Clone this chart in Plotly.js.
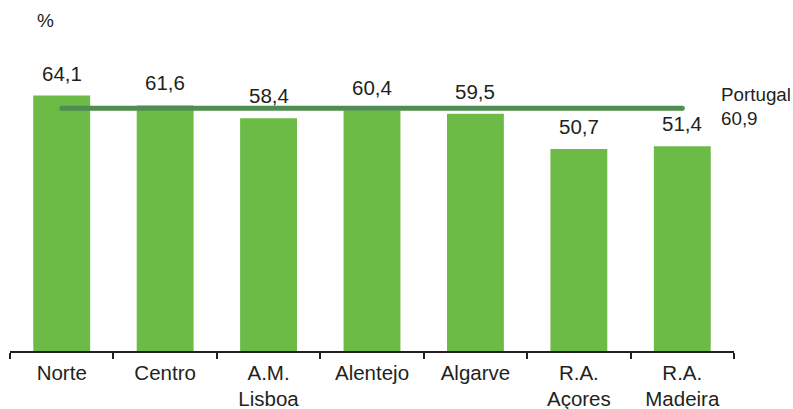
<!DOCTYPE html>
<html>
<head>
<meta charset="utf-8">
<script src="https://cdn.plot.ly/plotly-3.0.1.min.js"></script>
<style>html,body{margin:0;padding:0;background:#fff;}#chart{width:793px;height:409px;}</style>
</head>
<body>
<div id="chart"></div>
<script>
var categories = ["Norte", "Centro", "A.M.<br>Lisboa", "Alentejo", "Algarve", "R.A.<br>Açores", "R.A.<br>Madeira"];
var values = [64.1, 61.6, 58.4, 60.4, 59.5, 50.7, 51.4];
var portugalLabel = "Portugal";
var portugalValue = 60.9;
var unitLabel = "%";

function fmt(v) { return v.toFixed(1).replace(".", ","); }

var textColor = "#231f20";
var fontFamily = "Liberation Sans, Arial, sans-serif";

var barTrace = {
  type: "bar",
  x: categories,
  y: values,
  marker: { color: "#6cbb47" },
  width: 0.55,
  hoverinfo: "skip"
};

var lineTrace = {
  type: "scatter",
  mode: "lines+markers",
  x: [categories[0], categories[categories.length - 1]],
  y: [portugalValue, portugalValue],
  line: { color: "#4f8d51", width: 5 },
  marker: { color: "#4f8d51", size: 5 },
  hoverinfo: "skip",
  cliponaxis: false
};

var annotations = categories.map(function (c, i) {
  return {
    x: c, y: values[i], xref: "x", yref: "y",
    text: fmt(values[i]),
    showarrow: false,
    yanchor: "bottom",
    yshift: 9,
    font: { family: fontFamily, size: 20.5, color: textColor }
  };
});

annotations.push({
  x: categories[categories.length - 1], y: portugalValue, xref: "x", yref: "y",
  text: portugalLabel + "<br>" + fmt(portugalValue),
  showarrow: false, xanchor: "left", yanchor: "middle", align: "left",
  xshift: 37, yshift: 2,
  font: { family: fontFamily, size: 18.8, color: textColor }
});

annotations.push({
  x: 0.049, y: 1.183, xref: "paper", yref: "paper",
  text: unitLabel, showarrow: false, xanchor: "center", yanchor: "middle",
  font: { family: fontFamily, size: 19, color: textColor }
});

var layout = {
  width: 793, height: 409,
  margin: { l: 10, r: 59, t: 72, b: 58 },
  paper_bgcolor: "#ffffff",
  plot_bgcolor: "#ffffff",
  showlegend: false,
  font: { family: fontFamily, size: 20, color: textColor },
  xaxis: {
    type: "category", range: [-0.5, 6.5], autorange: false,
    showline: true, linecolor: "#231f20", linewidth: 2,
    ticks: "outside", tickson: "boundaries", ticklen: 6, tickwidth: 2, tickcolor: "#231f20",
    ticklabelstandoff: 2,
    tickfont: { family: fontFamily, size: 20.5, color: textColor },
    showgrid: false, zeroline: false, fixedrange: true
  },
  yaxis: {
    visible: false, range: [0, 70], showgrid: false, zeroline: false, fixedrange: true
  },
  annotations: annotations
};

Plotly.newPlot("chart", [barTrace, lineTrace], layout, { displayModeBar: false, staticPlot: true });
</script>
</body>
</html>
